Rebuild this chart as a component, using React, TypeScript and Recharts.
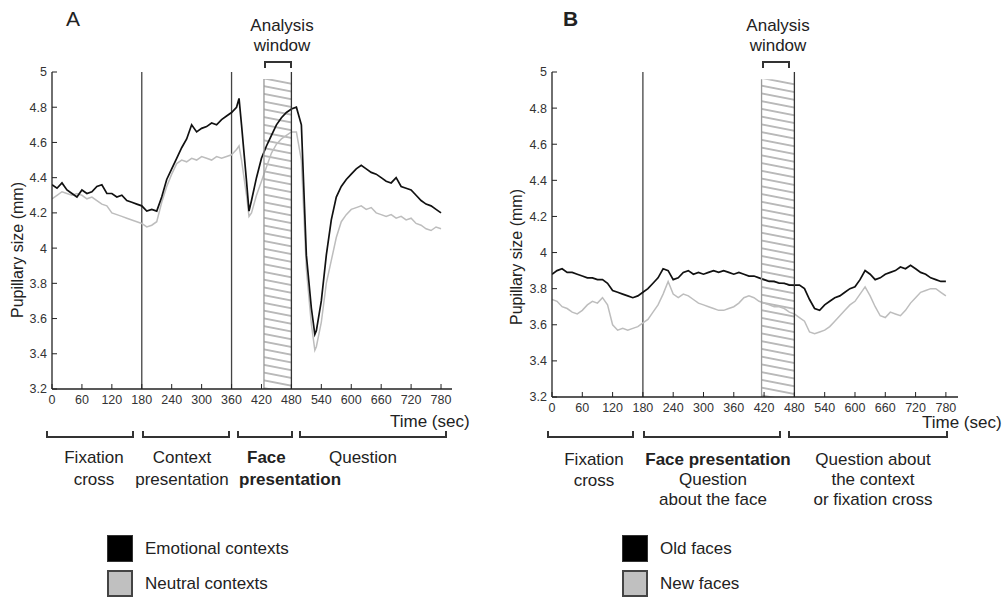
import React from "react";
import { LineChart, Line, XAxis, YAxis, ReferenceLine, ReferenceArea } from "recharts";

// Panel A: time (sec) and pupil size (mm)
const timeA = [
  0, 10, 20, 30, 40, 50, 60, 70, 80, 90, 100, 110, 120, 130, 140, 150, 160, 170, 180, 190,
  200, 210, 220, 230, 240, 250, 260, 270, 280, 290, 300, 310, 320, 330, 340, 350, 360, 370,
  375, 380, 390, 395, 400, 410, 420, 430, 440, 450, 460, 470, 480, 490, 500, 510, 520, 527,
  530, 540, 550, 560, 570, 580, 590, 600, 610, 620, 630, 640, 650, 660, 670, 680, 690, 700,
  710, 720, 730, 740, 750, 760, 770, 780,
];
const emotional = [
  4.36, 4.34, 4.37, 4.33, 4.31, 4.29, 4.33, 4.31, 4.32, 4.35, 4.36, 4.31, 4.31, 4.29, 4.3, 4.27,
  4.26, 4.25, 4.24, 4.21, 4.22, 4.21, 4.29, 4.39, 4.45, 4.51, 4.57, 4.62, 4.7, 4.66, 4.68, 4.69,
  4.71, 4.7, 4.73, 4.75, 4.77, 4.8, 4.85, 4.7, 4.38, 4.21, 4.27, 4.4, 4.51, 4.58, 4.64, 4.7,
  4.74, 4.77, 4.79, 4.8, 4.7, 3.96, 3.66, 3.51, 3.53, 3.7, 3.96, 4.16, 4.29, 4.35, 4.39, 4.42,
  4.45, 4.47, 4.45, 4.43, 4.42, 4.4, 4.38, 4.37, 4.4, 4.35, 4.34, 4.33, 4.3, 4.27, 4.25, 4.24,
  4.22, 4.2,
];
const neutral = [
  4.28, 4.3, 4.32, 4.31, 4.3, 4.31, 4.3, 4.28, 4.29, 4.27, 4.25, 4.24, 4.2, 4.19, 4.18, 4.17,
  4.16, 4.15, 4.14, 4.12, 4.13, 4.15, 4.26, 4.35, 4.42, 4.48, 4.5, 4.49, 4.51, 4.5, 4.52, 4.51,
  4.5, 4.52, 4.51, 4.52, 4.53, 4.56, 4.58, 4.5, 4.3, 4.18, 4.2, 4.3, 4.38, 4.46, 4.54, 4.59,
  4.62, 4.64, 4.66, 4.66, 4.5, 3.88, 3.57, 3.42, 3.44, 3.58, 3.8, 3.93, 4.06, 4.15, 4.19, 4.22,
  4.23, 4.24, 4.22, 4.23, 4.2, 4.19, 4.18, 4.19, 4.17, 4.18, 4.16, 4.17, 4.14, 4.13, 4.11, 4.1,
  4.12, 4.11,
];

// Panel B
const timeB = [
  0, 10, 20, 30, 40, 50, 60, 70, 80, 90, 100, 110, 120, 130, 140, 150, 160, 170, 180, 190,
  200, 210, 220, 230, 240, 250, 260, 270, 280, 290, 300, 310, 320, 330, 340, 350, 360, 370,
  380, 390, 400, 410, 420, 430, 440, 450, 460, 470, 480, 490, 500, 510, 520, 530, 540, 550,
  560, 570, 580, 590, 600, 610, 620, 630, 640, 650, 660, 670, 680, 690, 700, 710, 720, 730,
  740, 750, 760, 770, 780,
];
const oldFaces = [
  3.88, 3.9, 3.91, 3.89, 3.89, 3.88, 3.87, 3.86, 3.86, 3.85, 3.85, 3.83, 3.79, 3.78, 3.77, 3.76,
  3.75, 3.76, 3.78, 3.8, 3.83, 3.86, 3.91, 3.9, 3.85, 3.86, 3.89, 3.9, 3.88, 3.89, 3.88, 3.89,
  3.9, 3.89, 3.9, 3.89, 3.88, 3.89, 3.88, 3.87, 3.87, 3.86, 3.85, 3.84, 3.84, 3.83, 3.83, 3.82,
  3.82, 3.82, 3.8, 3.74, 3.69, 3.68, 3.71, 3.73, 3.75, 3.76, 3.78, 3.8, 3.81, 3.85, 3.9, 3.88,
  3.85, 3.86, 3.88, 3.89, 3.9, 3.92, 3.91, 3.93, 3.91, 3.89, 3.88, 3.86, 3.85, 3.84, 3.84,
];
const newFaces = [
  3.74, 3.73, 3.7, 3.69, 3.67, 3.66, 3.68, 3.71, 3.73, 3.72, 3.75, 3.71, 3.6, 3.57, 3.58, 3.57,
  3.58, 3.59, 3.61, 3.63, 3.67, 3.71, 3.77, 3.84, 3.77, 3.75, 3.77, 3.76, 3.74, 3.72, 3.71, 3.7,
  3.69, 3.68, 3.68, 3.69, 3.7, 3.72, 3.75, 3.76, 3.75, 3.73, 3.72, 3.71, 3.7, 3.7, 3.69, 3.67,
  3.66, 3.64, 3.62, 3.56, 3.55, 3.56, 3.57, 3.59, 3.62, 3.65, 3.68, 3.71, 3.73, 3.77, 3.81, 3.76,
  3.7, 3.65, 3.64, 3.67, 3.66, 3.65, 3.68, 3.72, 3.75, 3.78, 3.79, 3.8, 3.8, 3.78, 3.76,
];

const xTicks = [0, 60, 120, 180, 240, 300, 360, 420, 480, 540, 600, 660, 720, 780];
const yTicks = [3.2, 3.4, 3.6, 3.8, 4, 4.2, 4.4, 4.6, 4.8, 5];

const font = "'Liberation Sans', Arial, sans-serif";
const tickStyle = { fill: "#333", fontSize: 12.5, fontFamily: font };
const axisLine = { stroke: "#222", strokeWidth: 1.3 };

type PanelProps = {
  id: string;
  rows: { t: number; dark: number; light: number }[];
  width: number;
  height: number;
  right: number;
  bottom: number;
  xMax: number;
  hatchFrom: number;
  phaseLines: number[];
};

const Panel = ({ id, rows, width, height, right, bottom, xMax, hatchFrom, phaseLines }: PanelProps) => (
  <LineChart width={width} height={height} data={rows} margin={{ top: 72, left: 0, right, bottom }}>
    <defs>
      <pattern id={`hatch-${id}`} patternUnits="userSpaceOnUse" width={10} height={7.6} patternTransform="rotate(11)">
        <line x1={0} y1={3.8} x2={10} y2={3.8} stroke="#7a7a7a" strokeWidth={1} />
      </pattern>
    </defs>
    <XAxis
      dataKey="t"
      type="number"
      domain={[0, xMax]}
      ticks={xTicks}
      interval={0}
      tick={tickStyle}
      axisLine={axisLine}
      tickLine={{ stroke: "#222" }}
      tickSize={-5}
      tickMargin={11}
      height={20}
      allowDataOverflow
    />
    <XAxis
      xAxisId="top"
      orientation="top"
      type="number"
      domain={[0, xMax]}
      ticks={xTicks}
      interval={0}
      tickFormatter={() => ""}
      axisLine={axisLine}
      tickLine={{ stroke: "#222" }}
      tickSize={-5}
      height={0}
      allowDataOverflow
    />
    <YAxis
      type="number"
      domain={[3.2, 5]}
      ticks={yTicks}
      interval={0}
      tickFormatter={(v: number) => String(+v.toFixed(1))}
      tick={tickStyle}
      axisLine={axisLine}
      tickLine={{ stroke: "#222" }}
      tickSize={-5}
      tickMargin={10}
      width={52}
      allowDataOverflow
    />
    <YAxis
      yAxisId="right"
      orientation="right"
      type="number"
      domain={[3.2, 5]}
      ticks={yTicks}
      interval={0}
      tickFormatter={() => ""}
      axisLine={axisLine}
      tickLine={{ stroke: "#222" }}
      tickSize={-5}
      width={0}
      allowDataOverflow
    />
    {phaseLines.map((x) => (
      <ReferenceLine key={x} x={x} stroke="#444" strokeWidth={1.3} />
    ))}
    <Line dataKey="light" stroke="#bdbdbd" strokeWidth={1.5} dot={false} isAnimationActive={false} />
    <Line dataKey="dark" stroke="#111" strokeWidth={1.7} dot={false} isAnimationActive={false} />
    <ReferenceArea
      x1={hatchFrom}
      x2={480}
      y1={3.2}
      y2={4.96}
      fill={`url(#hatch-${id})`}
      fillOpacity={1}
      stroke="none"
    />
    <ReferenceLine
      segment={[
        { x: hatchFrom, y: 3.2 },
        { x: hatchFrom, y: 4.96 },
      ]}
      stroke="#999"
      strokeWidth={1.3}
    />
    <ReferenceLine x={480} stroke="#333" strokeWidth={1.3} />
  </LineChart>
);

const abs = (left: number, top: number, extra: React.CSSProperties = {}): React.CSSProperties => ({
  position: "absolute",
  left,
  top,
  ...extra,
});

const Bracket = ({ left, right, top, up }: { left: number; right: number; top: number; up?: boolean }) => (
  <div
    style={abs(left, top, {
      width: right - left,
      height: 7,
      boxSizing: "border-box",
      border: "2px solid #333",
      borderTop: up ? "2px solid #333" : "none",
      borderBottom: up ? "none" : "2px solid #333",
    })}
  />
);

const Centered = ({ cx, top, lines, bold, lh = 22 }: { cx: number; top: number; lines: string[]; bold?: boolean; lh?: number }) => (
  <div style={abs(cx - 90, top, { width: 180, textAlign: "center", lineHeight: `${lh}px`, fontWeight: bold ? 700 : 400 })}>
    {lines.map((l) => (
      <div key={l}>{l}</div>
    ))}
  </div>
);

const LegendItem = ({ left, top, color, border, label }: { left: number; top: number; color: string; border: string; label: string }) => (
  <>
    <div style={abs(left, top, { width: 26, height: 27, background: color, border, boxSizing: "border-box" })} />
    <div style={abs(left + 38, top + 3, { lineHeight: "22px", whiteSpace: "nowrap" })}>{label}</div>
  </>
);

export default function App() {
  const rowsA = timeA.map((t, i) => ({ t, dark: emotional[i], light: neutral[i] }));
  const rowsB = timeB.map((t, i) => ({ t, dark: oldFaces[i], light: newFaces[i] }));

  return (
    <div
      style={{
        position: "absolute",
        left: 0,
        top: 0,
        width: 1005,
        height: 597,
        overflow: "hidden",
        background: "#fff",
        fontFamily: font,
        fontSize: 17,
        color: "#222",
      }}
    >
      <div style={abs(0, 0)}>
        <Panel id="a" rows={rowsA} width={470} height={420} right={18} bottom={11} xMax={802} hatchFrom={425} phaseLines={[180, 360]} />
      </div>
      <div style={abs(500, 0)}>
        <Panel id="b" rows={rowsB} width={475} height={430} right={17} bottom={13} xMax={804} hatchFrom={415} phaseLines={[180]} />
      </div>

      <div style={abs(66, 7, { fontSize: 21, lineHeight: "24px" })}>A</div>
      <div style={abs(563, 7, { fontSize: 21, lineHeight: "24px", fontWeight: 700 })}>B</div>

      <Centered cx={282} top={16} lines={["Analysis", "window"]} lh={20} />
      <Centered cx={778} top={16} lines={["Analysis", "window"]} lh={20} />
      <Bracket left={264} right={292} top={61} up />
      <Bracket left={762} right={790} top={61} up />

      <div style={abs(18, 250, { transform: "translate(-50%, -50%) rotate(-90deg)", fontSize: 16, whiteSpace: "nowrap" })}>
        Pupillary size (mm)
      </div>
      <div style={abs(517, 257, { transform: "translate(-50%, -50%) rotate(-90deg)", fontSize: 16, whiteSpace: "nowrap" })}>
        Pupillary size (mm)
      </div>

      <div style={abs(390, 411, { whiteSpace: "nowrap", lineHeight: "22px" })}>Time (sec)</div>
      <div style={abs(922, 414, { whiteSpace: "nowrap", lineHeight: "18px" })}>Time (sec)</div>

      {/* phases, panel A */}
      <Bracket left={46} right={134} top={431} />
      <Bracket left={142} right={230} top={431} />
      <Bracket left={237} right={293} top={431} />
      <Bracket left={299} right={447} top={431} />
      <Centered cx={94} top={447} lines={["Fixation", "cross"]} />
      <Centered cx={182} top={447} lines={["Context", "presentation"]} />
      <div style={abs(247, 447, { fontWeight: 700, lineHeight: "22px" })}>Face</div>
      <div style={abs(239, 469, { fontWeight: 700, lineHeight: "22px" })}>presentation</div>
      <Centered cx={363} top={447} lines={["Question"]} />

      {/* phases, panel B */}
      <Bracket left={547} right={634} top={431} />
      <Bracket left={643} right={781} top={431} />
      <Bracket left={788} right={948} top={431} />
      <Centered cx={594} top={449} lines={["Fixation", "cross"]} lh={21} />
      <Centered cx={718} top={450} lines={["Face presentation"]} bold lh={20} />
      <Centered cx={713} top={470} lines={["Question", "about the face"]} lh={20} />
      <Centered cx={873} top={450} lines={["Question about", "the context", "or fixation cross"]} lh={20} />

      <LegendItem left={107} top={535} color="#000" border="1px solid #333" label="Emotional contexts" />
      <LegendItem left={107} top={570} color="#c0c0c0" border="2px solid #444" label="Neutral contexts" />
      <LegendItem left={622} top={535} color="#000" border="1px solid #333" label="Old faces" />
      <LegendItem left={622} top={570} color="#c0c0c0" border="2px solid #444" label="New faces" />
    </div>
  );
}
